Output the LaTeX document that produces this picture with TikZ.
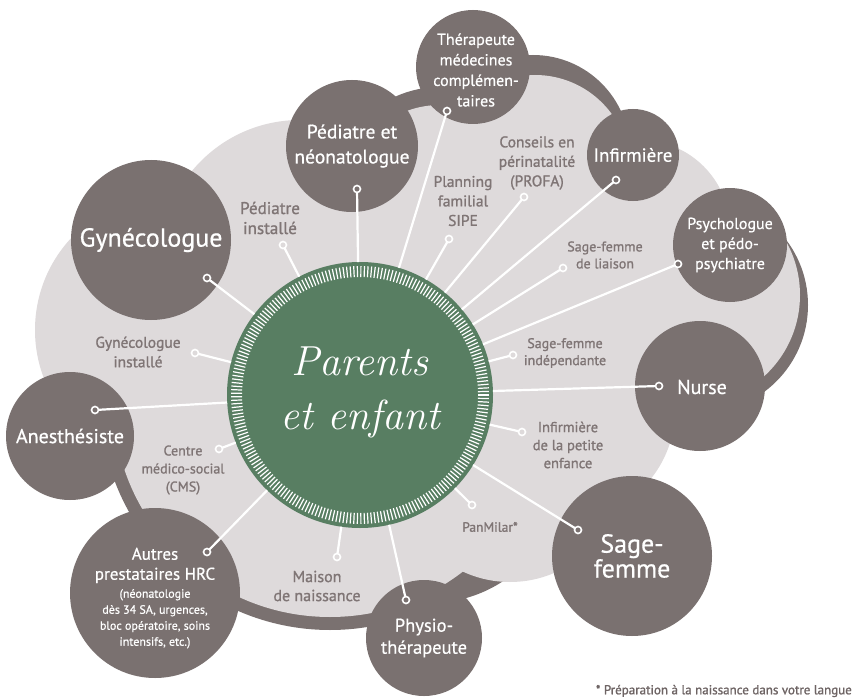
\documentclass[tikz,border=0pt]{standalone}
\usepackage{fontspec}
\newfontfamily\ptsans{PT Sans}[FakeBold=0.6]
\newfontfamily\lblsans{PT Sans}[FakeBold=1.2]
\definecolor{dkc}{HTML}{7A7170}
\definecolor{ltc}{HTML}{DEDADB}
\definecolor{grn}{HTML}{587E62}
\definecolor{txtc}{HTML}{7F7575}
\definecolor{footc}{HTML}{6E6464}
\tikzset{
  bubble/.style={circle, fill=dkc, inner sep=0pt, outer sep=0pt, text=white, align=center, font=\ptsans},
  lbl/.style={text=txtc, align=center, inner sep=0pt, font=\lblsans\fontsize{15.5}{19.5}\selectfont},
  ep/.style={circle, draw=white, line width=1.6pt, minimum size=7pt, inner sep=0pt, outer sep=0pt},
  epl/.style={ep, fill=ltc},
  epd/.style={ep, fill=dkc},
  conn/.style={draw=white, line width=2.2pt},
  darkcloud/.style={fill=dkc},
  lightcloud/.style={fill=ltc}
}
\begin{document}
\begin{tikzpicture}[x=1pt,y=-1pt]
\useasboundingbox (0,0) rectangle (854,698);
\fill[white] (0,0) rectangle (854,698);
% dark cloud (band)
\fill[darkcloud] (330,400) circle[radius=230pt];
\fill[darkcloud] (430,470) circle[radius=133pt];
\fill[darkcloud] (440,195) circle[radius=108pt];
\fill[darkcloud] (533,152) circle[radius=97pt];
\fill[darkcloud] (700,305) circle[radius=108pt];
% light cloud
\fill[lightcloud] (170,330) circle[radius=135pt];
\fill[lightcloud] (300,260) circle[radius=140pt];
\fill[lightcloud] (330,400) circle[radius=217pt];
\fill[lightcloud] (535,170) circle[radius=95pt];
\fill[lightcloud] (440,200) circle[radius=95pt];
\fill[lightcloud] (640,230) circle[radius=90pt];
\fill[lightcloud] (690,295) circle[radius=110pt];
\fill[lightcloud] (565,410) circle[radius=110pt];
\fill[lightcloud] (510,470) circle[radius=112pt];
\fill[lightcloud] (450,330) circle[radius=150pt];
% bubbles
\node[bubble, minimum size=114pt] (ther) at (473,67) {};
\node[text=white, align=center, font=\ptsans\fontsize{16}{20.5}\selectfont] (thertxt) at (476,70) {Thérapeute\\médecines\\complémen-\\taires};
\node[bubble, minimum size=132pt, font=\ptsans\fontsize{19.5}{25}\selectfont] (ped) at (352,146) {Pédiatre et\\néonatologue};
\node[bubble, minimum size=160pt, font=\ptsans\fontsize{26}{30}\selectfont] (gyn) at (151,240) {Gynécologue};
\node[bubble, minimum size=92pt, font=\ptsans\fontsize{19}{23}\selectfont] (inf) at (633,155) {Infirmière};
\node[bubble, minimum size=114pt, font=\ptsans\fontsize{16}{20}\selectfont] (psy) at (730,245) {Psychologue\\et pédo-\\psychiatre};
\node[bubble, minimum size=130pt] (nurse) at (700,386) {};
\node[text=white, font=\ptsans\fontsize{20}{24}\selectfont] (nursetxt) at (702,387) {Nurse};
\node[bubble, minimum size=160pt, font=\ptsans\fontsize{26}{23}\selectfont] (sf) at (632,556) {Sage-\\femme};
\node[bubble, minimum size=116pt, font=\ptsans\fontsize{18.5}{22}\selectfont] (phys) at (424,638) {Physio-\\thérapeute};
\node[bubble, minimum size=170pt] (autres) at (155,593) {};
\node[text=white, align=center, font=\ptsans\fontsize{17}{20}\selectfont] (autrestxt) at (155,598) {Autres\\prestataires HRC\\[-2pt]{\fontsize{12}{16}\selectfont (néonatologie}\\[-4pt]{\fontsize{12}{16}\selectfont dès 34 SA, urgences,}\\[-4pt]{\fontsize{12}{16}\selectfont bloc opératoire, soins}\\[-4pt]{\fontsize{12}{16}\selectfont intensifs, etc.)}};
\node[bubble, minimum size=128pt, font=\ptsans\fontsize{20}{24}\selectfont] (anes) at (70,436) {Anesthésiste};
% hub
\node[circle, fill=grn, minimum size=266pt, inner sep=0pt, outer sep=0pt] (hub) at (360,395) {};
\begin{scope}[shift={(hub.center)}]
  \foreach \a in {0,1.6,...,358.5} {
    \draw[white, line width=1.2pt] (\a:118) -- (\a:129);
  }
\end{scope}
\node[text=white, align=center, font=\fontsize{42}{54}\selectfont\itshape] (hubtxt) at (360,392) {Parents\\et enfant};
% endpoints
\node[epd] (e-ped) at (357,189) {};
\node[epl] (e-pedi) at (283,245) {};
\node[epd] (e-gyn) at (207,278) {};
\node[epl] (e-gyni) at (195,353) {};
\node[epd] (e-ther) at (447,111) {};
\node[epl] (e-plan) at (449,239) {};
\node[epl] (e-cons) at (524,197) {};
\node[epd] (e-inf) at (616,180) {};
\node[epl] (e-sfl) at (563,268) {};
\node[epd] (e-psy) at (678,264) {};
\node[epl] (e-sfi) at (513,355) {};
\node[epd] (e-nurse) at (659,386) {};
\node[epl] (e-inpe) at (522,432) {};
\node[epd] (e-sf) at (578,530) {};
\node[epl] (e-pan) at (472,505) {};
\node[epd] (e-phys) at (406,600) {};
\node[epl] (e-mais) at (337,557) {};
\node[epd] (e-autres) at (207,552) {};
\node[epl] (e-cms) at (219,449) {};
\node[epd] (e-anes) at (95,410) {};
% connectors
\foreach \e in {ped,pedi,gyn,gyni,ther,plan,cons,inf,sfl,psy,sfi,nurse,inpe,sf,pan,phys,mais,autres,cms,anes} {
  \draw[conn] (e-\e) -- (hub);
}
% labels
\node[lbl, font=\lblsans\fontsize{17}{20}\selectfont] (l-pedi) at (270,218) {Pédiatre\\installé};
\node[lbl] (l-gyni) at (138,352) {Gynécologue\\installé};
\node[lbl] (l-plan) at (463,201) {Planning\\familial\\SIPE};
\node[lbl] (l-cons) at (537,163) {Conseils en\\périnatalité\\(PROFA)};
\node[lbl, font=\lblsans\fontsize{14}{17}\selectfont] (l-sfl) at (605,255) {Sage-femme\\de liaison};
\node[lbl, font=\lblsans\fontsize{14}{17}\selectfont] (l-sfi) at (565,353) {Sage-femme\\indépendante};
\node[lbl, font=\lblsans\fontsize{14.5}{18}\selectfont] (l-inpe) at (568,445) {Infirmière\\de la petite\\enfance};
\node[lbl, font=\lblsans\fontsize{13.5}{17}\selectfont] (l-pan) at (490,527) {PanMilar*};
\node[lbl, font=\lblsans\fontsize{16}{19}\selectfont] (l-mais) at (317,586) {Maison\\de naissance};
\node[lbl, font=\lblsans\fontsize{14}{18}\selectfont] (l-cms) at (183,470) {Centre\\médico-social\\(CMS)};
% footnote
\node[anchor=east, inner sep=0pt, text=footc, font=\lblsans\fontsize{13}{16}\selectfont] (foot) at (852,691) {* Préparation à la naissance dans votre langue};
\end{tikzpicture}
\end{document}
